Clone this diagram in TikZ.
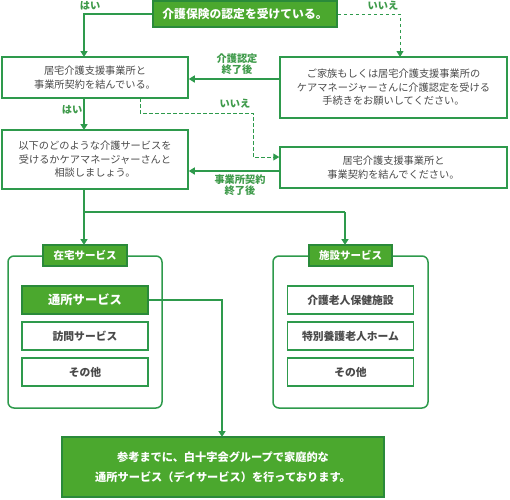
\documentclass[tikz,border=0pt]{standalone}
\usepackage{fontspec}
\setmainfont{Noto Sans CJK JP}
\usetikzlibrary{arrows.meta}
\definecolor{gfill}{HTML}{4BA82E}
\definecolor{gline}{HTML}{2E9A4C}
\definecolor{gdark}{HTML}{2A8A3A}
\definecolor{gtext}{HTML}{3E9A4A}
\definecolor{btext}{HTML}{4A4A4A}
\tikzset{
  plainbox/.style={draw=gline,line width=1.5pt,fill=white,inner sep=0pt,align=center,
    text=btext,font=\fontsize{10.2}{13.5}\selectfont},
  greenbox/.style={draw=gdark,line width=1.5pt,fill=gfill,inner sep=0pt,align=center,
    text=white,font=\bfseries\fontsize{10.5}{13}\selectfont},
  frame/.style={draw=gline,line width=1.5pt,rounded corners=6pt},
  conn/.style={draw=gline,line width=1.5pt},
  arr/.style={conn,-{Triangle[width=7pt,length=6pt]}},
  darr/.style={arr,line width=1pt,dash pattern=on 3.5pt off 2.5pt},
  lbl/.style={text=gtext,font=\bfseries\fontsize{10.2}{11.5}\selectfont,align=center,inner sep=0pt},
}
\begin{document}
\begin{tikzpicture}[x=1pt,y=-1pt]
\useasboundingbox (0,0) rectangle (510,499);
% main boxes
\node[greenbox,minimum width=184pt,minimum height=26pt,font=\bfseries\fontsize{11.8}{13}\selectfont] (top) at (245,14) {介護保険の認定を受けている。};
\node[plainbox,minimum width=186pt,minimum height=41pt] (b2) at (95,77.5) {居宅介護支援事業所と\\事業所契約を結んでいる。};
\node[plainbox,minimum width=227pt,minimum height=61pt] (b3) at (393.5,87.5) {ご家族もしくは居宅介護支援事業所の\\ケアマネージャーさんに介護認定を受ける\\手続きをお願いしてください。};
\node[plainbox,minimum width=186pt,minimum height=59pt] (b4) at (95,159.5) {以下のどのような介護サービスを\\受けるかケアマネージャーさんと\\相談しましょう。};
\node[plainbox,minimum width=227pt,minimum height=41pt] (b5) at (393.5,167.5) {居宅介護支援事業所と\\事業契約を結んでください。};
% containers
\draw[frame] (8,256) rectangle (162,408);
\draw[frame] (273,256) rectangle (428,408);
\node[greenbox,minimum width=84pt,minimum height=21pt] (lz) at (85,255.5) {在宅サービス};
\node[greenbox,minimum width=83pt,minimum height=21pt] (ls) at (350.5,255.5) {施設サービス};
% inner boxes
\tikzset{inner/.style={minimum width=126pt,minimum height=28pt,font=\bfseries\fontsize{10.8}{13}\selectfont}}
\node[greenbox,inner,font=\bfseries\fontsize{12.3}{13}\selectfont] (z1) at (85,300) {通所サービス};
\node[plainbox,inner] (z2) at (85,336) {訪問サービス};
\node[plainbox,inner] (z3) at (85,372) {その他};
\node[plainbox,inner] (s1) at (350.5,300) {介護老人保健施設};
\node[plainbox,inner] (s2) at (350.5,336) {特別養護老人ホーム};
\node[plainbox,inner] (s3) at (350.5,372) {その他};
% bottom box
\node[greenbox,minimum width=322pt,minimum height=60pt,font=\bfseries\fontsize{11.2}{20}\selectfont] (bot) at (223,467) {参考までに、白十字会グループで家庭的な\\通所サービス（デイサービス）を行っております。};
% connectors
\coordinate (c1) at (84,14);
\draw[arr] (top.west) -- (c1) -- (84,57);
\coordinate (c2) at (400,14);
\draw[darr] (top.east) -- (c2) -- (400,57);
\draw[arr] (b3.west |- 0,79) -- (b2.east |- 0,79);
\draw[arr] (84,98) -- (84,130);
\coordinate (d1) at (140,113);
\coordinate (d2) at (253,113);
\coordinate (d3) at (253,157);
\draw[darr] (140,98) -- (d1) -- (d2) -- (d3) -- (b5.west |- d3);
\draw[arr] (b5.west |- 0,171) -- (b4.east |- 0,171);
\coordinate (br) at (84,212);
\coordinate (br2) at (345,212);
\draw[conn] (84,189) -- (br) -- (br2);
\draw[arr] (br) -- (84,245);
\draw[arr] (br2) -- (345,245);
\coordinate (t1) at (222,300);
\draw[arr] (z1.east) -- (t1) -- (222,437);
% labels
\node[lbl] (l1) at (90,6) {はい};
\node[lbl] (l2) at (383,6) {いいえ};
\node[lbl] (l3) at (237,64) {介護認定\\終了後};
\node[lbl] (l4) at (72,110) {はい};
\node[lbl] (l5) at (235,104) {いいえ};
\node[lbl] (l6) at (240,185) {事業所契約\\終了後};
\end{tikzpicture}
\end{document}
